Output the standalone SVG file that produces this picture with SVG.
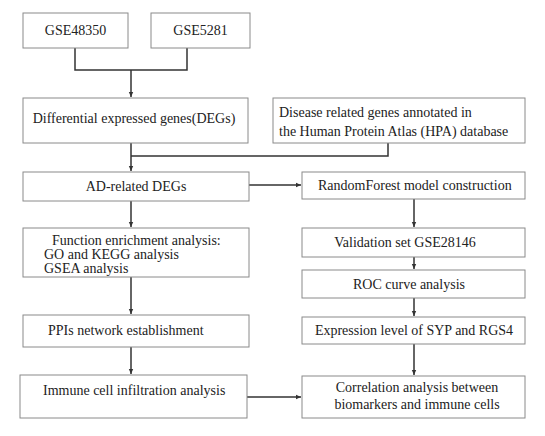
<svg xmlns="http://www.w3.org/2000/svg" width="545" height="436" viewBox="0 0 545 436">
<defs>
<style>
.box{fill:#fff;stroke:#8a8a8a;stroke-width:1}
text{font-family:'Liberation Serif','Times New Roman','DejaVu Serif',serif;font-size:14px;fill:#222}
.c{text-anchor:middle}
.ln{fill:none;stroke:#333;stroke-width:1.5}
</style>
<marker id="ar" markerWidth="6" markerHeight="6" refX="5" refY="3" orient="auto" markerUnits="userSpaceOnUse">
<path d="M0,0.8 L5,3 L0,5.2 Z" fill="#333"/>
</marker>
</defs>
<rect width="545" height="436" fill="#fff"/>
<g id="connectors">
<path class="ln" d="M75,48 V70 H187 V48"/>
<path class="ln" d="M131,70 V97" marker-end="url(#ar)"/>
<path class="ln" d="M131,143 V171" marker-end="url(#ar)"/>
<path class="ln" d="M388,143 V156 H131"/>
<path class="ln" d="M249,185 H301" marker-end="url(#ar)"/>
<path class="ln" d="M131,201 V227" marker-end="url(#ar)"/>
<path class="ln" d="M131,277 V314" marker-end="url(#ar)"/>
<path class="ln" d="M131,347 V374" marker-end="url(#ar)"/>
<path class="ln" d="M247,397 H301" marker-end="url(#ar)"/>
<path class="ln" d="M414,199 V227" marker-end="url(#ar)"/>
<path class="ln" d="M414,257 V269" marker-end="url(#ar)"/>
<path class="ln" d="M414,298 V316" marker-end="url(#ar)"/>
<path class="ln" d="M414,344 V375" marker-end="url(#ar)"/>
</g>
<g font-family="Liberation Serif, serif">
<g id="gse48350"><rect class="box" x="23" y="13" width="105" height="35"/><text x="75.5" y="35" class="c">GSE48350</text></g>
<g id="gse5281"><rect class="box" x="151" y="13" width="99" height="35"/><text class="c" x="200.5" y="35">GSE5281</text></g>
<g id="degs"><rect class="box" x="23" y="98" width="225" height="45"/><text class="c" x="134" y="123">Differential expressed genes(DEGs)</text></g>
<g id="hpa"><rect class="box" x="273" y="98" width="252" height="45"/><text x="279" y="117">Disease related genes annotated in</text><text x="279" y="136">the Human Protein Atlas (HPA) database</text></g>
<g id="ad"><rect class="box" x="23" y="172" width="226" height="29"/><text class="c" x="136" y="191">AD-related DEGs</text></g>
<g id="rf"><rect class="box" x="302" y="172" width="223" height="27"/><text x="318" y="190">RandomForest model construction</text></g>
<g id="func"><rect class="box" x="23" y="228" width="226" height="49"/><text x="52" y="245">Function enrichment analysis:</text><text x="44" y="259">GO and KEGG analysis</text><text x="44" y="273">GSEA  analysis</text></g>
<g id="val"><rect class="box" x="302" y="228" width="223" height="29"/><text class="c" x="405" y="247">Validation set GSE28146</text></g>
<g id="roc"><rect class="box" x="302" y="270" width="223" height="28"/><text class="c" x="409" y="289">ROC curve analysis</text></g>
<g id="ppi"><rect class="box" x="23" y="315" width="226" height="32"/><text x="48" y="335">PPIs network establishment</text></g>
<g id="expr"><rect class="box" x="302" y="317" width="223" height="27"/><text class="c" x="414" y="335">Expression level of SYP and RGS4</text></g>
<g id="immune"><rect class="box" x="20" y="375" width="227" height="43"/><text x="43" y="395">Immune cell infiltration analysis</text></g>
<g id="corr"><rect class="box" x="302" y="376" width="223" height="42"/><text class="c" x="417" y="392">Correlation analysis between</text><text class="c" x="417" y="409">biomarkers and immune cells</text></g>
</g>
</svg>
